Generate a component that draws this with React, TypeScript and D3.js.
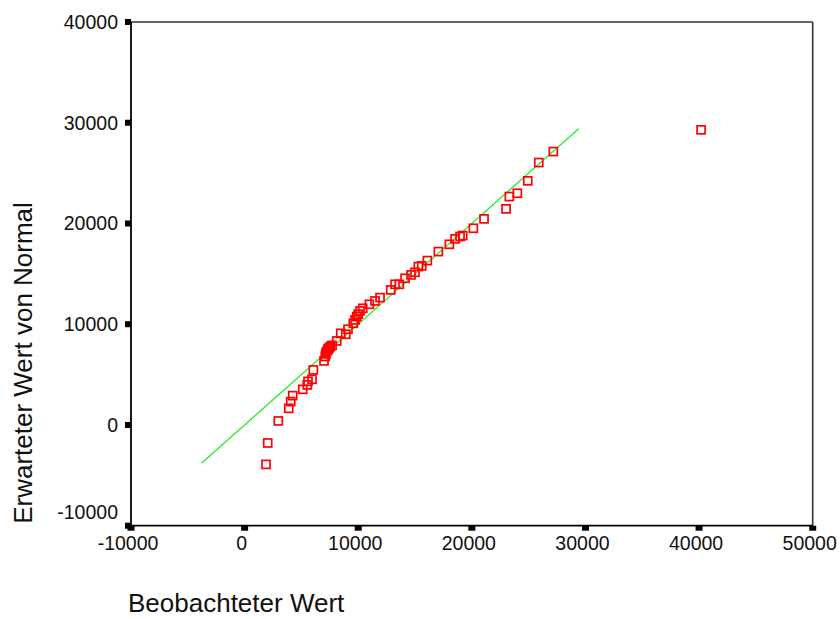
import React from "react";
import * as d3 from "d3";

// Observed values (Beobachteter Wert)
const observed: number[] = [
  1884, 2033, 2967, 3882, 4058, 4234, 5114, 5519, 5581, 5933, 6048, 6989,
  7100, 7150, 7200, 7300, 7350, 7450, 7550, 7700,
  8107, 8459, 8900, 9100, 9570, 9718, 9865, 10000, 10158, 10393, 10980, 11479, 11919,
  12860, 13239, 13618, 14120, 14648, 14999, 15290, 15590, 16083, 17051, 18020,
  18521, 18961, 19199, 20132, 21074, 23010, 23301, 24005, 24921, 25889, 27174, 40176,
];
// Expected normal values (Erwarteter Wert von Normal)
const expected: number[] = [
  -3913, -1787, 397, 1648, 2314, 2910, 3535, 3972, 4330, 4528, 5462, 6356,
  6800, 7050, 7250, 7400, 7550, 7650, 7800, 7900,
  8342, 9096, 9000, 9500, 10090, 10427, 10755, 11000, 11320, 11580, 11979, 12314, 12641,
  13406, 13962, 13962, 14558, 14895, 15154, 15720, 15790, 16316, 17210, 17935,
  18471, 18700, 18798, 19523, 20457, 21450, 22671, 23000, 24230, 26048, 27140, 29295,
];
const xTicks: number[] = [-10000, 0, 10000, 20000, 30000, 40000, 50000];
const yTicks: number[] = [-10000, 0, 10000, 20000, 30000, 40000];
const refLine: number[] = [-3800, 29400];

const xTitle = "Beobachteter Wert";
const yTitle = "Erwarteter Wert von Normal";

export default function App() {
  const L = 131, R = 812.7, T = 22, B = 525.7;
  const x = d3.scaleLinear().domain([-10000, 50000]).range([L, R]);
  const y = d3.scaleLinear().domain([-10000, 40000]).range([B, T]);
  const font = "'Liberation Sans', Arial, sans-serif";
  const line = d3.line<number>().x((d) => x(d)).y((d) => y(d));
  const s = 8;
  return (
    <svg
      width={840}
      height={619}
      style={{ position: "absolute", left: 0, top: 0, background: "#fff" }}
    >
      <rect x={0} y={0} width={840} height={619} fill="#fff" />
      {/* frame */}
      <line x1={L} y1={T} x2={R} y2={T} stroke="#333" strokeWidth={1.6} />
      <line x1={R} y1={T} x2={R} y2={B} stroke="#333" strokeWidth={1.6} />
      <line x1={L} y1={T} x2={L} y2={B} stroke="#000" strokeWidth={1.8} />
      <line x1={L} y1={B} x2={R} y2={B} stroke="#000" strokeWidth={1.8} />
      {/* y ticks */}
      {yTicks.map((t, i) => (
        <g key={"y" + t}>
          <rect x={L - 6} y={y(t) - 3} width={6} height={6} fill="#000" />
          <text
            x={118}
            y={(i === 0 ? y(t) - 14 : y(t)) + 7}
            textAnchor="end"
            fontFamily={font}
            fontSize={19.5}
            fill="#111"
          >
            {t}
          </text>
        </g>
      ))}
      {/* x ticks */}
      {xTicks.map((t) => (
        <g key={"x" + t}>
          <rect x={x(t) - 3.5} y={B} width={7} height={5} fill="#000" />
          <text
            x={x(t) - 3}
            y={550}
            textAnchor="middle"
            fontFamily={font}
            fontSize={19.5}
            fill="#111"
          >
            {t}
          </text>
        </g>
      ))}
      {/* reference line */}
      <path d={line(refLine) || ""} stroke="#22ee22" strokeWidth={1.2} fill="none" />
      {/* points */}
      {observed.map((v, i) => (
        <rect
          key={i}
          x={x(v) - s / 2}
          y={y(expected[i]) - s / 2}
          width={s}
          height={s}
          fill="none"
          stroke="#ff0000"
          strokeWidth={1.7}
        />
      ))}
      {/* titles */}
      <text x={128} y={612} fontFamily={font} fontSize={26} fill="#111">
        {xTitle}
      </text>
      <text
        transform={`translate(32,363) rotate(-90)`}
        textAnchor="middle"
        fontFamily={font}
        fontSize={26}
        fill="#111"
      >
        {yTitle}
      </text>
    </svg>
  );
}
